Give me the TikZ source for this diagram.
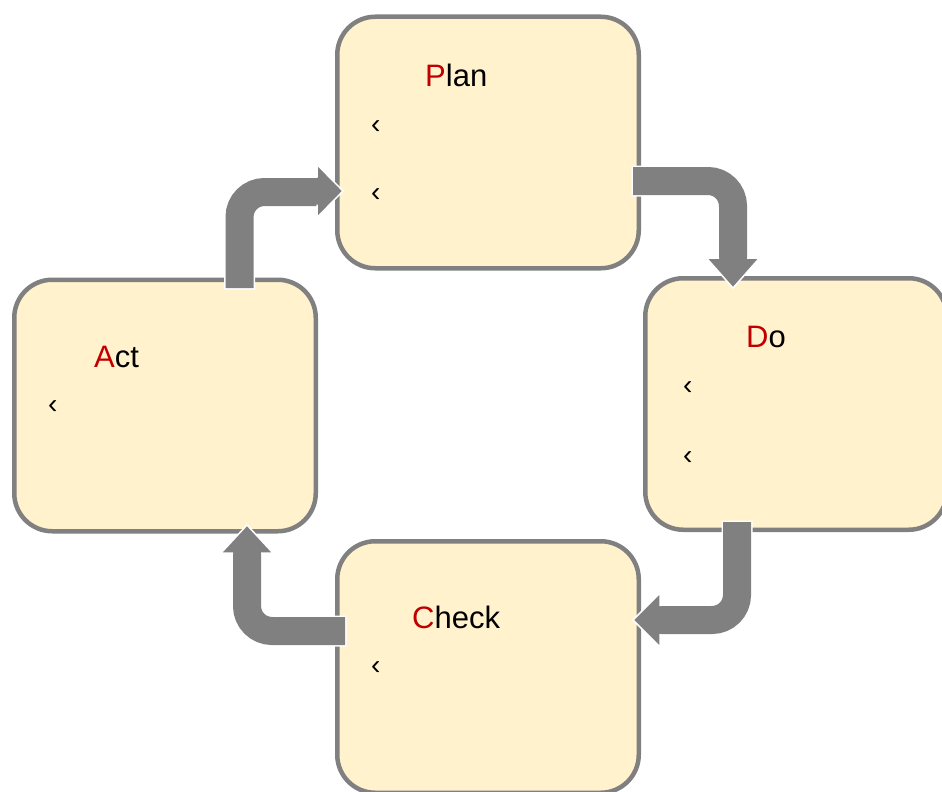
\documentclass[tikz,border=0pt]{standalone}
\usepackage{fontspec}
\setmainfont{Liberation Sans}
\usetikzlibrary{calc}
\definecolor{boxfill}{HTML}{FFF2CC}
\definecolor{boxline}{HTML}{808080}
\definecolor{arrowgray}{HTML}{808080}
\definecolor{pdcared}{HTML}{C00000}

\begin{document}
\begin{tikzpicture}[x=1pt, y=-1pt,
  phase/.style={draw=boxline, fill=boxfill, line width=4.5pt, rounded corners=38pt, minimum width=301.5pt, minimum height=251.5pt, inner sep=0pt},
  phasetitle/.style={anchor=base west, inner sep=0pt, font=\fontsize{31}{36}\selectfont},
  phaseitem/.style={anchor=west, inner sep=0pt, font=\fontsize{28}{32}\selectfont},
  flow/.style={draw=arrowgray, line width=28pt, rounded corners=25pt, preaction={draw=white, line width=31pt, shorten <=-1.5pt}},
  flowhead/.style={fill=arrowgray, draw=white, line width=1.5pt}]
 \useasboundingbox (0,0) rectangle (942,792);

 % the four phases
 \node[phase] (plan) at (488,142.5) {};
 \node[phase] (do) at (796,404) {};
 \node[phase] (act) at (165,405.5) {};
 \node[phase] (check) at (488,667) {};

 \node[phasetitle] (plantitle) at (425,86) {{\color{pdcared}P}lan};
 \node[phaseitem] (planitemA) at (371,127) {‹};
 \node[phaseitem] (planitemB) at (371,195) {‹};

 \node[phasetitle] (dotitle) at (746,347) {{\color{pdcared}D}o};
 \node[phaseitem] (doitemA) at (683,388) {‹};
 \node[phaseitem] (doitemB) at (683,458) {‹};

 \node[phasetitle] (checktitle) at (412,628) {{\color{pdcared}C}heck};
 \node[phaseitem] (checkitem) at (371,668) {‹};

 \node[phasetitle] (acttitle) at (94,367) {{\color{pdcared}A}ct};
 \node[phaseitem] (actitem) at (48,407) {‹};

 % bent arrows between phases
 \draw[flow] ($(plan.east)+(-8,38.5)$) -| ($(do.north)+(-63,-17)$);
 \filldraw[flowhead] ($(do.north)+(-77,-18)$) -- ++(-12.5,0) -- ++(26.5,30) -- ++(26.5,-30) -- ++(-12.5,0);

 \draw[flow] ($(do.south)+(-59,-10)$) |- ($(check.east)+(18,-47)$);
 \filldraw[flowhead] ($(check.east)+(19,-61)$) -- ++(0,-13) -- ++(-27,27) -- ++(27,27) -- ++(0,-13);

 \draw[flow] ($(check.west)+(10,-36)$) -| ($(act.south)+(82,18.5)$);
 \filldraw[flowhead] ($(act.south)+(68,19.5)$) -- ++(-12,0) -- ++(26,-28) -- ++(26,28) -- ++(-12,0);

 \draw[flow] ($(act.north)+(74.5,10.5)$) |- ($(plan.west)+(-17,49.5)$);
 \filldraw[flowhead] ($(plan.west)+(-18,35)$) -- ++(0,-13) -- ++(26,26.5) -- ++(-26,26.5) -- ++(0,-13);
\end{tikzpicture}
\end{document}
